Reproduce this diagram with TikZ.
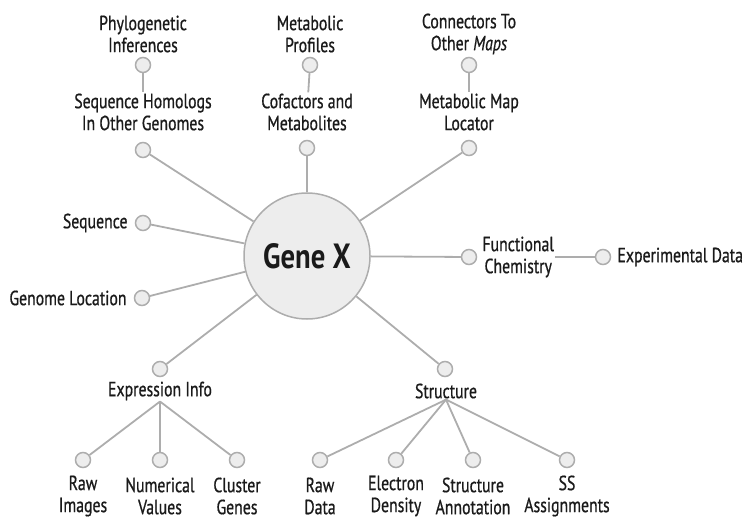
\documentclass[tikz,border=0pt]{standalone}
\usepackage{fontspec}
\setmainfont{PT Sans}[FakeStretch=0.82]
\newfontfamily\lblfont{PT Sans}[FakeStretch=0.77, FakeBold=0.7]
\usetikzlibrary{positioning}
\definecolor{cline}{HTML}{ADADAD}
\definecolor{cdot}{HTML}{EDEDED}
\definecolor{ctext}{HTML}{1A1A1A}

\begin{document}
\begin{tikzpicture}[
  x=1pt, y=-1pt,
  font=\lblfont\fontsize{20.5}{22}\selectfont,
  every node/.style={align=center, text=ctext},
  dot/.style={circle, draw=cline, fill=cdot, line width=1.5pt,
              minimum size=15pt, inner sep=0pt},
  hub/.style={circle, draw=cline, fill=cdot, line width=1.5pt,
              minimum size=126pt, inner sep=0pt,
              font=\fontsize{35}{40}\selectfont\bfseries},
  lbl/.style={inner sep=1pt},
  link/.style={draw=cline, line width=1.8pt},
]
\useasboundingbox (0,0) rectangle (743,521);
\node[hub] (gene) at (307,256) {Gene X};
% top row
\node[dot] (homdot) at (143,150) {};
\node[dot] (cofdot) at (307,148) {};
\node[dot] (mapdot) at (469,148) {};
\node[lbl] (hom) at (143,112) {Sequence Homologs\\In Other Genomes};
\node[lbl] (cof) at (307,112) {Cofactors and\\Metabolites};
\node[lbl] (map) at (469,112) {Metabolic Map\\Locator};
\node[dot] (phydot) at (143,65) {};
\node[dot] (prodot) at (310,65) {};
\node[dot] (condot) at (469,65) {};
\node[lbl] (phy) at (143,34) {Phylogenetic\\Inferences};
\node[lbl] (pro) at (310,34) {Metabolic\\Profiles};
\node[lbl] (con) at (469,34) {Connectors To\\Other \textit{Maps}};
% left side
\node[dot] (seqdot) at (143,223) {};
\node[dot] (locdot) at (142,298) {};
\node[lbl, left=6pt of seqdot] (seq) {Sequence};
\node[lbl, left=6pt of locdot] (loc) {Genome Location};
% right side
\node[dot] (fundot) at (469,257) {};
\node[lbl, right=4pt of fundot] (fun) {Functional\\Chemistry};
\node[dot] (expdot) at (603,257) {};
\node[lbl, right=5pt of expdot] (exp) {Experimental Data};
% bottom
\node[dot] (exidot) at (160,369) {};
\node[dot] (strdot) at (445,369) {};
\node[lbl] (exi) at (160,391) {Expression Info};
\node[lbl] (str) at (446,391) {Structure};
\node[dot] (rimdot) at (83,460) {};
\node[dot] (numdot) at (160,460) {};
\node[dot] (cludot) at (237,460) {};
\node[dot] (rdadot) at (320,460) {};
\node[dot] (eledot) at (396,460) {};
\node[dot] (anndot) at (473,460) {};
\node[dot] (ssadot) at (567,460) {};
\node[lbl] (rim) at (83,496) {Raw\\Images};
\node[lbl] (num) at (160,496) {Numerical\\Values};
\node[lbl] (clu) at (237,496) {Cluster\\Genes};
\node[lbl] (rda) at (320,496) {Raw\\Data};
\node[lbl] (ele) at (396,496) {Electron\\Density};
\node[lbl] (ann) at (473,496) {Structure\\Annotation};
\node[lbl] (ssa) at (567,496) {SS\\Assignments};

\foreach \n in {homdot,cofdot,mapdot,seqdot,locdot,fundot,exidot,strdot}
  \draw[link] (gene) -- (\n);
\draw[link] (phydot) -- (hom);
\draw[link] (prodot) -- (cof);
\draw[link] (condot) -- (map);
\draw[link] (fun) -- (expdot);
\foreach \n in {rimdot,numdot,cludot}
  \draw[link] (exi.south) -- (\n);
\foreach \n in {rdadot,eledot,anndot,ssadot}
  \draw[link] (str.south) -- (\n);
\end{tikzpicture}
\end{document}
